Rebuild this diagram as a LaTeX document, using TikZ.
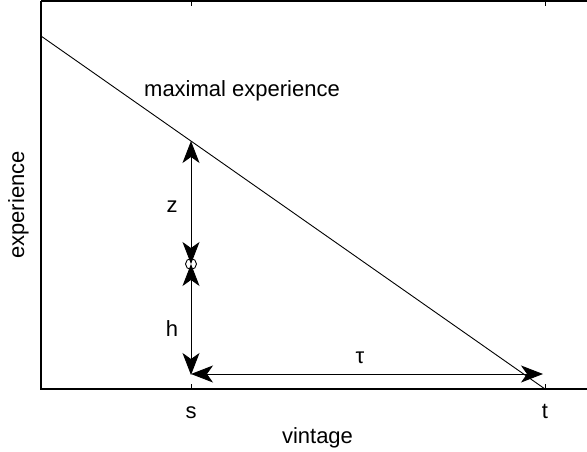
\documentclass[tikz,border=0pt]{standalone}
\usepackage{fontspec}
\setmainfont{Liberation Sans}
\usetikzlibrary{arrows.meta}
\begin{document}
\begin{tikzpicture}[x=1pt,y=-1pt,
  lbl/.style={font=\fontsize{22}{26}\selectfont, inner sep=0pt, anchor=base},
  axisline/.style={line width=1.4pt},
  thin/.style={line width=0.9pt},
  arr/.style={thin, {Stealth[length=22pt,width=17pt,inset=6pt]}-{Stealth[length=22pt,width=17pt,inset=6pt]}}
]
\useasboundingbox (0,0) rectangle (587,452);
% axes box
\draw[axisline] (41,1) -- (590,1);
\draw[axisline] (41,1) -- (41,389) -- (590,389);
% ticks
\draw[thin] (191,389) -- (191,384) (545,389) -- (545,384);
\draw[thin] (191,1) -- (191,6) (545,1) -- (545,6);
% maximal experience line
\coordinate (L0) at (41,36);
\coordinate (L1) at (545,389);
\draw[thin] (L0) -- (L1);
% points
\coordinate (A) at (191,141);
\coordinate (C) at (191,264);
\coordinate (B) at (191,375);
\coordinate (T) at (543,374);
\coordinate (S) at (191,374);
\draw[thin] (C) circle (5.5);
\draw[arr] (C) -- (A);
\draw[arr] (C) -- (B);
\draw[arr] (S) -- (T);
% labels
\node[lbl] (me) at (242,97) {maximal experience};
\node[lbl] (z) at (172,212) {z};
\node[lbl] (h) at (172,336) {h};
\node[lbl] (tau) at (360,363) {τ};
\node[lbl] (s) at (191,418) {s};
\node[lbl] (t) at (545,418) {t};
\node[lbl] (vin) at (317.5,443) {vintage};
\node[lbl, rotate=90] (exp) at (24,205) {experience};
\end{tikzpicture}
\end{document}
